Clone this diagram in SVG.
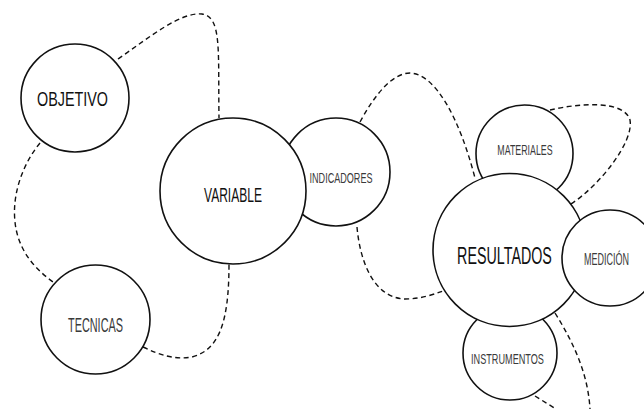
<svg xmlns="http://www.w3.org/2000/svg" width="644" height="409" viewBox="0 0 644 409">
<style>
.c{fill:#fff;stroke:#111;stroke-width:1.6}
.d{fill:none;stroke:#111;stroke-width:1.4;stroke-dasharray:5 3.5}
text{font-family:"Liberation Sans",Arial,sans-serif;text-anchor:middle}
.b{fill:#111}
.g{fill:#3a3a3a}
</style>
<rect width="644" height="409" fill="#fff"/>
<g id="connectors">
<path class="d" d="M118,59 C150,37 180,12 202,14 C222,17 218,50 219,118"/>
<path class="d" d="M40,143 C22,165 12,195 15,222 C18,250 34,268 53,282"/>
<path class="d" d="M143,347 C160,355 175,360 192,357 C218,350 229,325 229,264"/>
<path class="d" d="M360,122 C374,96 392,73 410,73 C436,74 460,120 475,178"/>
<path class="d" d="M357,227 C360,262 374,298 405,299 C420,299 432,295 443,291"/>
<path class="d" d="M550,110 C580,103 624,100 630,120 C634,142 600,185 571,204"/>
<path class="d" d="M555,313 C575,345 588,375 590,409"/>
<path class="d" d="M535,396 L556,409"/>
</g>
<g id="indicadores"><circle class="c" cx="336" cy="172" r="54"/><text class="g" font-size="14.5" transform="translate(341,183) scale(0.626,1)">INDICADORES</text></g>
<g id="variable"><circle class="c" cx="233" cy="191" r="73"/><text class="b" font-size="21" transform="translate(233,202) scale(0.574,1)">VARIABLE</text></g>
<g id="objetivo"><circle class="c" cx="75" cy="98" r="54"/><text class="b" font-size="21" transform="translate(72.5,106) scale(0.683,1)">OBJETIVO</text></g>
<g id="tecnicas"><circle class="c" cx="95.5" cy="319.5" r="54.5"/><text class="g" font-size="20" transform="translate(95.5,332) scale(0.544,1)">TECNICAS</text></g>
<g id="materiales"><circle class="c" cx="524.5" cy="153.5" r="48.5"/><text class="g" font-size="15.5" transform="translate(525,155) scale(0.57,1)">MATERIALES</text></g>
<g id="instrumentos"><circle class="c" cx="510" cy="353" r="47"/><text class="g" font-size="15.5" transform="translate(507.5,364) scale(0.589,1)">INSTRUMENTOS</text></g>
<g id="resultados"><circle class="c" cx="509.5" cy="250" r="76.5"/><text class="b" font-size="24.5" transform="translate(504.5,264) scale(0.584,1)">RESULTADOS</text></g>
<g id="medicion"><circle class="c" cx="610" cy="258" r="48"/><text class="g" font-size="16" transform="translate(606.5,265) scale(0.5625,1)">MEDICIÓN</text></g>
</svg>
